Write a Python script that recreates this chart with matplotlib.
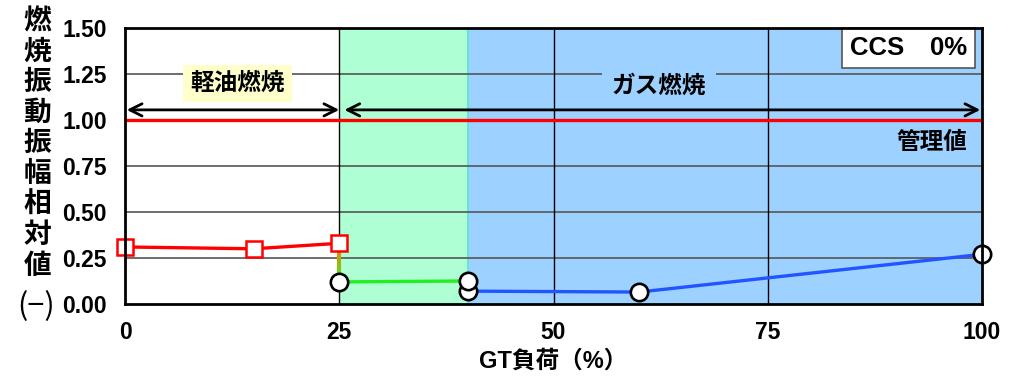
import numpy as np
import matplotlib
matplotlib.use("Agg")
import matplotlib.pyplot as plt
from matplotlib.collections import LineCollection

plt.rcParams['font.family'] = ['Liberation Sans', 'Noto Sans CJK JP', 'DejaVu Sans']
plt.rcParams['font.weight'] = 'bold'

# GT load (%) and relative combustion oscillation amplitude
oil_load = [0, 15, 25]
oil_amp = [0.31, 0.30, 0.33]
gas_low_load = [25, 40]
gas_low_amp = [0.12, 0.125]
gas_high_load = [40, 60, 100]
gas_high_amp = [0.07, 0.065, 0.27]
limit_value = 1.00

x_ticks = [0, 25, 50, 75, 100]
y_ticks = [0.00, 0.25, 0.50, 0.75, 1.00, 1.25, 1.50]
ylabel_chars = list("燃焼振動振幅相対値")

fig = plt.figure(figsize=(10.14, 3.76), dpi=100)
ax = fig.add_axes([125/1014, 1 - 304/376, 857/1014, 276/376])
ax.set_xlim(0, 100)
ax.set_ylim(0, 1.5)

# Operating regions
ax.axvspan(25, 40, color='#aeffd4', zorder=0, lw=0)
ax.axvspan(40, 100, color='#9dd1ff', zorder=0, lw=0)
ax.axvline(40, color='#6fe0d8', lw=1.5, zorder=0.5)

# Grid
for y in y_ticks[1:-1]:
    if y != limit_value:
        ax.axhline(y, color='#555555', lw=1.2, zorder=1)
for x in x_ticks[1:-1]:
    ax.axvline(x, color='black', lw=1.0, zorder=1)

# Control limit
ax.axhline(limit_value, color='#ff0000', lw=2.4, zorder=2)

# Transition between fuel modes with colour gradient
n = 20
ys = np.linspace(oil_amp[-1], gas_low_amp[0], n + 1)
segs = [[(25, ys[i]), (25, ys[i + 1])] for i in range(n)]
c0 = np.array(matplotlib.colors.to_rgb('#ff7700'))
c1 = np.array(matplotlib.colors.to_rgb('#44ee22'))
cols = [c0 + (c1 - c0) * (i / (n - 1)) for i in range(n)]
ax.add_collection(LineCollection(segs, colors=cols, linewidths=3.0, zorder=3))

ax.plot(oil_load, oil_amp, color='#ff0000', lw=2.4, marker='s', ms=12,
        mfc='white', mec='#ff0000', mew=1.8, zorder=5, clip_on=False)
ax.plot(gas_low_load, gas_low_amp, color='#22ee22', lw=2.4, marker='o', ms=12.5,
        mfc='white', mec='black', mew=1.9, zorder=5, clip_on=False)
ax.plot(gas_high_load, gas_high_amp, color='#2255ff', lw=2.4, marker='o', ms=12.5,
        mfc='white', mec='black', mew=1.9, zorder=4, clip_on=False)

# Range arrows
arrow_kw = dict(arrowstyle='<->', lw=2.0, color='black', mutation_scale=22,
                shrinkA=0, shrinkB=0)
ax.annotate('', xy=(0.2, 1.055), xytext=(25, 1.055), arrowprops=arrow_kw, zorder=3)
ax.annotate('', xy=(25.6, 1.055), xytext=(99.8, 1.055), arrowprops=arrow_kw, zorder=3)

ax.text(13.1, 1.20, '軽油燃焼', ha='center', va='center', fontsize=17,
        fontweight='bold', zorder=6,
        bbox=dict(boxstyle='square,pad=0.3', fc='#ffffcc', ec='none'))
ax.text(62.3, 1.185, 'ガス燃焼', ha='center', va='center', fontsize=17,
        fontweight='bold', zorder=6,
        bbox=dict(boxstyle='square,pad=0.4', fc='#9dd1ff', ec='none'))
ax.text(98.25, 0.88, '管理値', ha='right', va='center', fontsize=17,
        fontweight='bold', zorder=6)
ax.text(91.4, 1.391, 'CCS　0%', ha='center', va='center', fontsize=18.5,
        fontweight='bold', zorder=6,
        bbox=dict(boxstyle='square,pad=0.3', fc='white', ec='#555555', lw=1.2))

# Axes styling
for s in ax.spines.values():
    s.set_linewidth(2.0)
    s.set_zorder(7)
ax.set_xticks(x_ticks)
ax.set_yticks(y_ticks)
ax.set_yticklabels([f'{v:.2f}' for v in y_ticks])
ax.tick_params(length=0, labelsize=16.5)
ax.tick_params(axis='y', pad=13)
ax.tick_params(axis='x', pad=12)
for lab in ax.get_xticklabels() + ax.get_yticklabels():
    lab.set_fontweight('bold')
ax.set_xlabel('GT負荷（%）', fontsize=17, fontweight='bold', labelpad=4)

# Vertical y-axis label, one character per line
y0, step = 22, 30.6
for i, ch in enumerate(ylabel_chars):
    fig.text(37.5/1014, 1 - (y0 + i * step) / 376, ch, ha='center', va='center',
             fontsize=20, fontweight='bold')
fig.text(36/1014, 1 - 307/376, '(−)', ha='center', va='center', fontsize=22,
         fontweight='normal', family=['Noto Sans CJK JP', 'DejaVu Sans'])

fig.savefig('out.png', dpi=100)
